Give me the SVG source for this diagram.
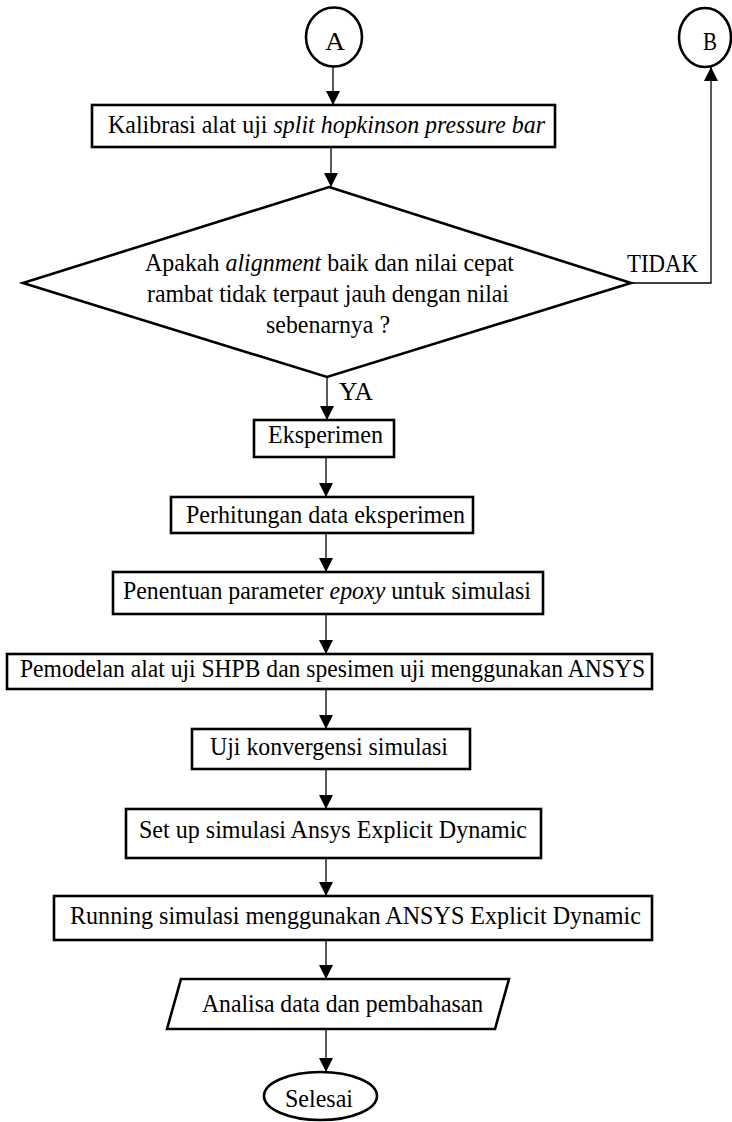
<svg xmlns="http://www.w3.org/2000/svg" width="732" height="1122" viewBox="0 0 732 1122">
<style>
.s{fill:#fff;stroke:#000;stroke-width:2.6}
.c{fill:none;stroke:#000;stroke-width:1.3}
text{font-family:"Liberation Serif","Times New Roman",serif;font-size:24.5px;fill:#000}
.i{font-style:italic}
</style>
<defs>
<marker id="ah" viewBox="0 0 10 10" refX="10" refY="5" markerWidth="15" markerHeight="14" markerUnits="userSpaceOnUse" orient="auto">
<path d="M0,0 L10,5 L0,10 z" fill="#000"/>
</marker>
</defs>
<rect width="732" height="1122" fill="#fff"/>
<g id="connectors">
<line class="c" x1="333" y1="67" x2="333" y2="105" marker-end="url(#ah)"/>
<line class="c" x1="331" y1="147" x2="331" y2="187" marker-end="url(#ah)"/>
<polyline class="c" points="631,283 711,283 711,67" marker-end="url(#ah)"/>
<line class="c" x1="327" y1="377" x2="327" y2="420" marker-end="url(#ah)"/>
<line class="c" x1="326" y1="457" x2="326" y2="497" marker-end="url(#ah)"/>
<line class="c" x1="326" y1="533" x2="326" y2="572" marker-end="url(#ah)"/>
<line class="c" x1="326" y1="614" x2="326" y2="654" marker-end="url(#ah)"/>
<line class="c" x1="326" y1="689" x2="326" y2="729" marker-end="url(#ah)"/>
<line class="c" x1="326" y1="769" x2="326" y2="809" marker-end="url(#ah)"/>
<line class="c" x1="326" y1="858" x2="326" y2="896" marker-end="url(#ah)"/>
<line class="c" x1="326" y1="940" x2="326" y2="979" marker-end="url(#ah)"/>
<line class="c" x1="326" y1="1029" x2="326" y2="1072" marker-end="url(#ah)"/>
<text x="627" y="272" textLength="71" lengthAdjust="spacingAndGlyphs">TIDAK</text>
<text x="339" y="400" textLength="34" lengthAdjust="spacingAndGlyphs">YA</text>
</g>
<g id="nodeA">
<ellipse class="s" cx="334" cy="37" rx="28" ry="29.5" stroke-width="2"/>
<text x="325" y="50" textLength="20" lengthAdjust="spacingAndGlyphs" font-size="26">A</text>
</g>
<g id="nodeB">
<ellipse class="s" cx="705" cy="37.5" rx="26" ry="29.5" stroke-width="2"/>
<text x="703" y="50" textLength="14" lengthAdjust="spacingAndGlyphs" font-size="24">B</text>
</g>
<g id="kalibrasi">
<rect class="s" x="92" y="105" width="463" height="42"/>
<text x="108" y="133" textLength="437" lengthAdjust="spacingAndGlyphs">Kalibrasi alat uji <tspan class="i">split hopkinson pressure bar</tspan></text>
</g>
<g id="decision">
<polygon class="s" points="329,187 631,283 327,377 23,283"/>
<text x="145" y="271" textLength="369" lengthAdjust="spacingAndGlyphs">Apakah <tspan class="i">alignment</tspan> baik dan nilai cepat</text>
<text x="147" y="302" textLength="362" lengthAdjust="spacingAndGlyphs">rambat tidak terpaut jauh dengan nilai</text>
<text x="266" y="333" textLength="124" lengthAdjust="spacingAndGlyphs">sebenarnya ?</text>
</g>
<g id="eksperimen">
<rect class="s" x="254" y="420" width="140" height="37"/>
<text x="268" y="443" textLength="115" lengthAdjust="spacingAndGlyphs">Eksperimen</text>
</g>
<g id="perhitungan">
<rect class="s" x="171" y="497" width="302" height="36"/>
<text x="186" y="523" textLength="279" lengthAdjust="spacingAndGlyphs">Perhitungan data eksperimen</text>
</g>
<g id="penentuan">
<rect class="s" x="113" y="572" width="430" height="42"/>
<text x="123" y="599" textLength="408" lengthAdjust="spacingAndGlyphs">Penentuan parameter <tspan class="i">epoxy</tspan> untuk simulasi</text>
</g>
<g id="pemodelan">
<rect class="s" x="7" y="654" width="645" height="35"/>
<text x="20" y="677" textLength="625" lengthAdjust="spacingAndGlyphs">Pemodelan alat uji SHPB dan spesimen uji menggunakan ANSYS</text>
</g>
<g id="uji">
<rect class="s" x="192" y="729" width="278" height="40"/>
<text x="210" y="755" textLength="238" lengthAdjust="spacingAndGlyphs">Uji konvergensi simulasi</text>
</g>
<g id="setup">
<rect class="s" x="126" y="809" width="415" height="49"/>
<text x="139" y="838" textLength="388" lengthAdjust="spacingAndGlyphs">Set up simulasi Ansys Explicit Dynamic</text>
</g>
<g id="running">
<rect class="s" x="54" y="896" width="598" height="44"/>
<text x="70" y="924" textLength="571" lengthAdjust="spacingAndGlyphs">Running simulasi menggunakan ANSYS Explicit Dynamic</text>
</g>
<g id="analisa">
<polygon class="s" points="181,979 509,979 495,1029 167,1029"/>
<text x="202" y="1012" textLength="281" lengthAdjust="spacingAndGlyphs">Analisa data dan pembahasan</text>
</g>
<g id="selesai">
<ellipse class="s" cx="320.5" cy="1096" rx="56.5" ry="24"/>
<text x="285" y="1107" textLength="68" lengthAdjust="spacingAndGlyphs">Selesai</text>
</g>
</svg>
